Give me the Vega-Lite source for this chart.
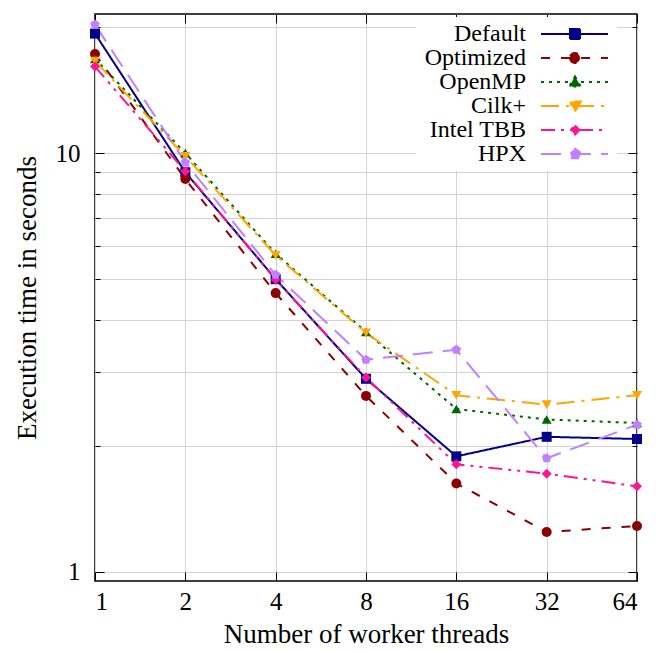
{
  "$schema": "https://vega.github.io/schema/vega-lite/v6.json",
  "width": 542,
  "height": 567,
  "autosize": {"type": "none"},
  "padding": {"left": 95, "top": 14, "right": 22, "bottom": 70},
  "background": "white",
  "data": {
    "values": [
      {"s": "Default", "t": 1, "v": 19.3},
      {"s": "Default", "t": 2, "v": 9.0},
      {"s": "Default", "t": 4, "v": 5.0},
      {"s": "Default", "t": 8, "v": 2.89},
      {"s": "Default", "t": 16, "v": 1.886},
      {"s": "Default", "t": 32, "v": 2.1},
      {"s": "Default", "t": 64, "v": 2.075},
      {"s": "Optimized", "t": 1, "v": 17.26},
      {"s": "Optimized", "t": 2, "v": 8.67},
      {"s": "Optimized", "t": 4, "v": 4.63},
      {"s": "Optimized", "t": 8, "v": 2.63},
      {"s": "Optimized", "t": 16, "v": 1.625},
      {"s": "Optimized", "t": 32, "v": 1.244},
      {"s": "Optimized", "t": 64, "v": 1.286},
      {"s": "OpenMP", "t": 1, "v": 16.8},
      {"s": "OpenMP", "t": 2, "v": 10.0},
      {"s": "OpenMP", "t": 4, "v": 5.75},
      {"s": "OpenMP", "t": 8, "v": 3.74},
      {"s": "OpenMP", "t": 16, "v": 2.447},
      {"s": "OpenMP", "t": 32, "v": 2.31},
      {"s": "OpenMP", "t": 64, "v": 2.266},
      {"s": "Cilk+", "t": 1, "v": 16.6},
      {"s": "Cilk+", "t": 2, "v": 9.83},
      {"s": "Cilk+", "t": 4, "v": 5.7},
      {"s": "Cilk+", "t": 8, "v": 3.72},
      {"s": "Cilk+", "t": 16, "v": 2.64},
      {"s": "Cilk+", "t": 32, "v": 2.506},
      {"s": "Cilk+", "t": 64, "v": 2.64},
      {"s": "Intel TBB", "t": 1, "v": 16.1},
      {"s": "Intel TBB", "t": 2, "v": 9.05},
      {"s": "Intel TBB", "t": 4, "v": 4.98},
      {"s": "Intel TBB", "t": 8, "v": 2.91},
      {"s": "Intel TBB", "t": 16, "v": 1.805},
      {"s": "Intel TBB", "t": 32, "v": 1.715},
      {"s": "Intel TBB", "t": 64, "v": 1.599},
      {"s": "HPX", "t": 1, "v": 20.28},
      {"s": "HPX", "t": 2, "v": 9.5},
      {"s": "HPX", "t": 4, "v": 5.12},
      {"s": "HPX", "t": 8, "v": 3.21},
      {"s": "HPX", "t": 16, "v": 3.39},
      {"s": "HPX", "t": 32, "v": 1.866},
      {"s": "HPX", "t": 64, "v": 2.245}
    ]
  },
  "layer": [
    {
      "mark": {"type": "line", "strokeWidth": 2, "strokeCap": "butt"},
      "encoding": {
        "x": {
          "field": "t", "type": "quantitative",
          "scale": {"type": "log", "base": 2, "domain": [1, 64], "nice": false},
          "axis": {
            "orient": "bottom", "values": [1, 2, 4, 8, 16, 32, 64], "format": "d",
            "title": "Number of worker threads", "grid": true,
            "tickSize": -9, "labelPadding": 17, "titlePadding": 7
          }
        },
        "y": {
          "field": "v", "type": "quantitative",
          "scale": {"type": "log", "domain": [0.95, 21.5], "nice": false, "zero": false},
          "axis": {
            "orient": "left", "values": [1, 2, 3, 4, 5, 6, 7, 8, 9, 10, 20],
            "labelExpr": "datum.value === 1 || datum.value === 10 ? format(datum.value, 'd') : ''",
            "title": "Execution time in seconds", "grid": true,
            "tickSize": {"expr": "datum.value === 1 || datum.value === 10 ? -9 : -5"},
            "labelPadding": 24, "titlePadding": 14
          }
        },
        "color": {
          "field": "s", "type": "nominal",
          "scale": {
            "domain": ["Default", "Optimized", "OpenMP", "Cilk+", "Intel TBB", "HPX"],
            "range": ["#00008b", "#8b0000", "#006400", "#ffa500", "#ff1493", "#c080ff"]
          },
          "legend": {
            "orient": "none", "legendX": 321, "legendY": 3, "padding": 5,
            "title": null, "fillColor": "white",
            "labelFont": "Liberation Serif", "labelFontSize": 24, "labelColor": "black",
            "labelAlign": "right", "labelOffset": 81, "labelLimit": 300,
            "rowPadding": 0, "symbolSize": 100, "symbolStrokeWidth": 2,
            "encode": {
              "symbols": {
                "update": {
                  "shape": {"signal": "datum.value === 'Default' ? 'M21.6,0H35M27.4,-1H29.4V1H27.4Z' : datum.value === 'Optimized' ? 'M21.6,0H35M27.4,0A1,1 0 1,0 29.4,0A1,1 0 1,0 27.4,0Z' : datum.value === 'OpenMP' ? 'M21.6,0H35M28.4,-1.1L29.55,0.9L27.25,0.9Z' : datum.value === 'Cilk+' ? 'M21.6,0H35M28.4,1.1L29.55,-0.9L27.25,-0.9Z' : datum.value === 'Intel TBB' ? 'M21.6,0H35M28.4,-0.9L29.3,0L28.4,0.9L27.5,0Z' : 'M21.6,0H35M28.4,-1.05L29.4,-0.32L29.02,0.85L27.78,0.85L27.4,-0.32Z'"},
                  "fill": {"scale": "color", "field": "value"},
                  "stroke": {"scale": "color", "field": "value"},
                  "strokeDash": {"scale": "strokeDash", "field": "value"},
                  "fillOpacity": {"value": 1},
                  "opacity": {"value": 1}
                }
              }
            }
          }
        },
        "strokeDash": {
          "field": "s", "type": "nominal",
          "scale": {
            "domain": ["Default", "Optimized", "OpenMP", "Cilk+", "Intel TBB", "HPX"],
            "range": [[1, 0], [9, 11], [3, 5], [18, 7, 3, 7], [14, 6, 3, 6, 3, 6], [20, 10]]
          },
          "legend": null
        }
      }
    },
    {
      "mark": {"type": "point", "filled": true, "size": 100, "opacity": 1},
      "encoding": {
        "x": {
          "field": "t", "type": "quantitative",
          "axis": {
            "orient": "top", "values": [1, 2, 4, 8, 16, 32, 64], "labels": false,
            "title": null, "grid": false, "tickSize": -9
          }
        },
        "y": {
          "field": "v", "type": "quantitative",
          "axis": {
            "orient": "right", "values": [1, 2, 3, 4, 5, 6, 7, 8, 9, 10, 20], "labels": false,
            "title": null, "grid": false,
            "tickSize": {"expr": "datum.value === 1 || datum.value === 10 ? -9 : -5"}
          }
        },
        "color": {"field": "s", "type": "nominal", "legend": null},
        "shape": {
          "field": "s", "type": "nominal",
          "scale": {
            "domain": ["HPX", "Intel TBB", "Cilk+", "OpenMP", "Optimized", "Default"],
            "range": ["M0,-1L0.951,-0.309L0.588,0.809L-0.588,0.809L-0.951,-0.309Z", "diamond", "triangle-down", "triangle-up", "circle", "square"]
          },
          "legend": null
        }
      }
    }
  ],
  "resolve": {"axis": {"x": "independent", "y": "independent"}},
  "config": {
    "view": {"stroke": "black", "strokeWidth": 1.5},
    "axis": {
      "domain": false,
      "tickColor": "black", "tickWidth": 1,
      "gridColor": "#d3d3d3", "gridWidth": 1, "gridOpacity": 1,
      "labelFont": "Liberation Serif", "labelFontSize": 25, "labelColor": "black",
      "titleFont": "Liberation Serif", "titleFontSize": 27, "titleFontWeight": "normal", "titleColor": "black"
    }
  }
}
